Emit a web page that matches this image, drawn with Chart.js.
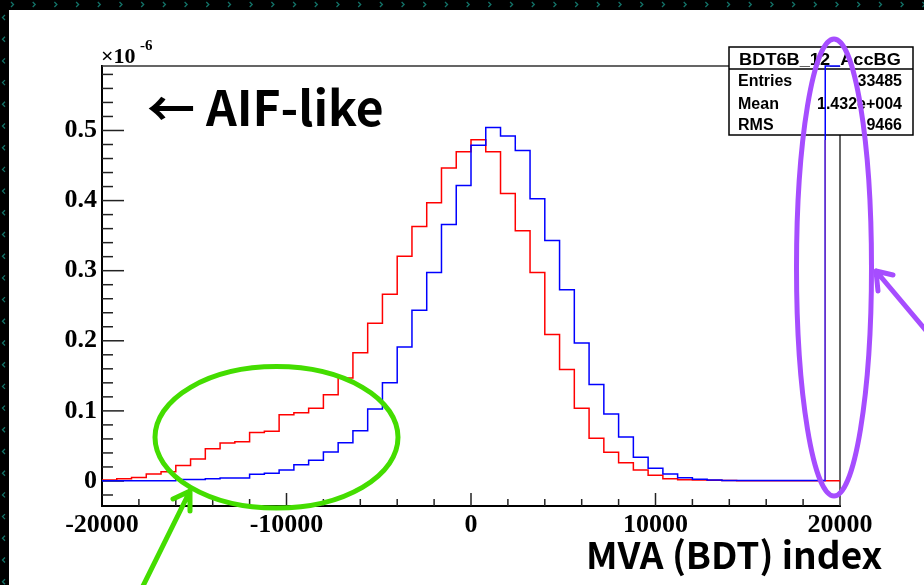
<!DOCTYPE html>
<html>
<head>
<meta charset="utf-8">
<script src="https://cdn.jsdelivr.net/npm/chart.js@4"></script>
<style>
html, body { margin: 0; padding: 0; background: #fff; overflow: hidden; }
#wrap { width: 924px; height: 585px; position: relative; }
</style>
</head>
<body>
<div id="wrap"><canvas id="myChart" width="924" height="585"></canvas></div>
<script>
// ******* DATA ******************
// histogram binning : 50 bins from -20000 to 20000
let binLow = -20000;
let binWidth = 800;

// red histogram (x10^-6), one value per bin
let redValues = [
  0.0014, 0.003, 0.005, 0.010, 0.013, 0.022, 0.0315, 0.046, 0.054, 0.056,
  0.069, 0.071, 0.0946, 0.0974, 0.1036, 0.123, 0.147, 0.183, 0.225, 0.2665,
  0.3205, 0.363, 0.397, 0.4466, 0.4695, 0.4867, 0.4695, 0.41, 0.357, 0.2975,
  0.209, 0.159, 0.1036, 0.061, 0.041, 0.026, 0.0158, 0.008, 0.0033, 0.0019,
  0.0014, 0.001, 0.0005, 0.0002, 0.0002, 0.0002, 0.0002, 0.0002, 0.0002, 0.0002
];

// blue histogram (BDT6B_12_AccBG), last bin runs off the top of the frame
let blueValues = [
  0.0003, 0.0003, 0.0003, 0.0003, 0.0003, 0.002, 0.002, 0.003, 0.0043, 0.0043,
  0.0095, 0.011, 0.0158, 0.023, 0.0296, 0.0415, 0.0544, 0.0716, 0.1027, 0.140,
  0.191, 0.2435, 0.2975, 0.366, 0.4217, 0.479, 0.5043, 0.492, 0.4713, 0.4026,
  0.343, 0.2727, 0.197, 0.1375, 0.0955, 0.0626, 0.034, 0.018, 0.010, 0.0045,
  0.0024, 0.0014, 0.0005, 0.0005, 0.0005, 0.0005, 0.0005, 0.0005, 0.0005, 0.592
];

let xTickValues = [-20000, -10000, 0, 10000, 20000];
let xTickLabels = ['-20000', '-10000', '0', '10000', '20000'];
let yTickValues = [0, 0.1, 0.2, 0.3, 0.4, 0.5];
let yTickLabels = ['0', '0.1', '0.2', '0.3', '0.4', '0.5'];

let statTitle = 'BDT6B_12_AccBG';
let statNames = ['Entries', 'Mean', 'RMS'];
let statValues = ['33485', '1.432e+004', '9466'];

let xMin = -20000, xMax = 20000;
let yMin = -0.0357, yMax = 0.592;


// turns bin values into step points (left edges + closing right edge)
function makeSteps(values){
  let pts = [];
  for(let i = 0; i < values.length; i++){
    pts.push({x: binLow + i * binWidth, y: values[i]});
  }
  pts.push({x: binLow + values.length * binWidth, y: values[values.length - 1]});
  return pts;
}

const sansCJK = '"Noto Sans CJK JP", "Noto Sans", sans-serif';

function stretchText(ctx, text, x, y, sx, align){
  ctx.save();
  ctx.translate(x, y);
  ctx.scale(sx, 1);
  ctx.textAlign = align;
  ctx.fillText(text, 0, 0);
  ctx.restore();
}

function arrowLine(ctx, x0, y0, x1, y1, wing1, wing2){
  ctx.beginPath();
  ctx.moveTo(x0, y0);
  ctx.lineTo(x1, y1);
  ctx.moveTo(wing1[0], wing1[1]);
  ctx.lineTo(x1, y1);
  ctx.lineTo(wing2[0], wing2[1]);
  ctx.stroke();
}

//////////////////////////////////////////////////////////////////////
// background, frame, ticks, stats box and the hand drawn notes
//////////////////////////////////////////////////////////////////////
const rootLook = {
  id: 'rootLook',
  beforeDraw(chart){
    const ctx = chart.ctx;
    ctx.save();
    ctx.fillStyle = '#000';
    ctx.fillRect(0, 0, 924, 585);
    ctx.fillStyle = '#fff';
    ctx.fillRect(9, 10, 915, 575);
    // little chevrons on the dark border
    ctx.strokeStyle = '#137268';
    ctx.lineWidth = 1.3;
    for(let x = 11; x < 924; x += 21.7){
      ctx.beginPath();
      ctx.moveTo(x, 2); ctx.lineTo(x + 2.5, 4.5); ctx.lineTo(x, 7);
      ctx.stroke();
    }
    for(let y = 15; y < 585; y += 21.7){
      ctx.beginPath();
      ctx.moveTo(5, y); ctx.lineTo(2.5, y + 2.5); ctx.lineTo(5, y + 5);
      ctx.stroke();
    }
    ctx.restore();
  },
  beforeDatasetsDraw(chart){
    const ctx = chart.ctx;
    const a = chart.chartArea;
    const xs = chart.scales.x, ys = chart.scales.y;
    ctx.save();
    // frame top + right
    ctx.strokeStyle = '#333';
    ctx.lineWidth = 1.5;
    ctx.beginPath();
    ctx.moveTo(a.left, a.top); ctx.lineTo(a.right, a.top); ctx.lineTo(a.right, a.bottom);
    ctx.stroke();

    // inner ticks, ROOT style
    ctx.strokeStyle = '#222';
    ctx.lineWidth = 1.5;
    for(let k = -9; k <= 9; k++){
      const px = xs.getPixelForValue(k * 2000);
      const len = (k % 5 === 0) ? 13 : 7;
      ctx.beginPath(); ctx.moveTo(px, a.bottom); ctx.lineTo(px, a.bottom - len); ctx.stroke();
    }
    for(let k = -1; k <= 29; k++){
      const py = ys.getPixelForValue(k * 0.02);
      if(py < a.top || py > a.bottom) continue;
      const len = (k % 5 === 0) ? 22 : 11;
      ctx.beginPath(); ctx.moveTo(a.left, py); ctx.lineTo(a.left + len, py); ctx.stroke();
    }

    // stats box
    ctx.fillStyle = '#fff';
    ctx.fillRect(729, 47, 184, 88);
    ctx.strokeStyle = '#000';
    ctx.lineWidth = 1.5;
    ctx.strokeRect(729, 47, 184, 88);
    ctx.beginPath(); ctx.moveTo(729, 69); ctx.lineTo(913, 69); ctx.stroke();
    ctx.fillStyle = '#000';
    ctx.textBaseline = 'alphabetic';
    ctx.font = 'bold 17px "Liberation Sans", Arial, sans-serif';
    stretchText(ctx, statTitle, 820, 65, 1.07, 'center');
    ctx.font = 'bold 16px "Liberation Sans", Arial, sans-serif';
    const rowY = [86, 109, 130];
    for(let i = 0; i < statNames.length; i++){
      stretchText(ctx, statNames[i], 738, rowY[i], 1.0, 'left');
      stretchText(ctx, statValues[i], 902, rowY[i], 1.0, 'right');
    }
    ctx.restore();
  },
  afterDraw(chart){
    const ctx = chart.ctx;
    const xs = chart.scales.x, ys = chart.scales.y;
    ctx.save();
    ctx.fillStyle = '#000';
    ctx.textBaseline = 'alphabetic';
    // x10^-6 exponent
    ctx.font = 'bold 22px "Liberation Serif", serif';
    ctx.textAlign = 'left';
    ctx.fillText('\u00d710', 101, 63);
    ctx.font = 'bold 15px "Liberation Serif", serif';
    ctx.fillText('-6', 140, 50);

    // big labels
    ctx.font = 'bold 48px ' + sansCJK;
    ctx.fillText('\u2190 AIF-like', 147, 126);
    ctx.font = 'bold 37px ' + sansCJK;
    ctx.fillText('MVA (BDT) index', 586, 569);

    // purple tint on the spike inside the ellipse
    const spikeX = xs.getPixelForValue(binLow + 49 * binWidth);
    ctx.strokeStyle = '#6a32c8';
    ctx.lineWidth = 1.5;
    ctx.beginPath(); ctx.moveTo(spikeX, 140); ctx.lineTo(spikeX, ys.getPixelForValue(0.0005)); ctx.stroke();

    ctx.lineCap = 'round';
    ctx.lineJoin = 'round';
    ctx.lineWidth = 5;
    // green ellipse + arrow
    ctx.strokeStyle = '#44dd00';
    ctx.beginPath(); ctx.ellipse(276.5, 437.3, 121.5, 70.7, 0, 0, Math.PI * 2); ctx.stroke();
    arrowLine(ctx, 141, 590, 190, 491, [173, 499], [190, 511]);

    // purple ellipse + arrow
    ctx.strokeStyle = '#a64dff';
    ctx.beginPath(); ctx.ellipse(834, 267.5, 37.5, 228.5, 0, 0, Math.PI * 2); ctx.stroke();
    arrowLine(ctx, 928, 333, 876, 271, [893, 275], [878, 291]);
    ctx.restore();
  }
};


const data = {
  datasets: [{
    label: 'BDT6B_12_AccBG',
    data: makeSteps(blueValues),
    borderColor: '#0000ff',
    borderWidth: 1.5,
    stepped: true,
    pointRadius: 0,
    fill: false,
    order: 0,
    clip: {left: 0, top: 2, right: 0, bottom: 0}
  },
  {
    label: 'signal',
    data: makeSteps(redValues),
    borderColor: '#ff0000',
    borderWidth: 1.5,
    stepped: true,
    pointRadius: 0,
    fill: false,
    order: 1
  }]
};

const config = {
  type: 'line',
  data: data,
  plugins: [rootLook],
  options: {
    responsive: false,
    animation: false,
    devicePixelRatio: 1,
    layout: { padding: { left: 0, top: 66, right: 84, bottom: 0 } },
    plugins: { legend: { display: false }, tooltip: { enabled: false } },
    scales: {
      x: {
        type: 'linear',
        min: xMin,
        max: xMax,
        afterBuildTicks: s => { s.ticks = xTickValues.map(v => ({value: v})); },
        afterFit: s => { s.height = 79; },
        grid: { display: false, drawTicks: false },
        border: { display: true, color: '#000', width: 2 },
        ticks: {
          autoSkip: false,
          maxRotation: 0,
          padding: 4,
          color: '#000',
          font: { family: '"Liberation Serif", "Times New Roman", serif', weight: 'bold', size: 26 },
          callback: (v, i) => xTickLabels[i]
        }
      },
      y: {
        type: 'linear',
        min: yMin,
        max: yMax,
        afterBuildTicks: s => { s.ticks = yTickValues.map(v => ({value: v})); },
        afterFit: s => { s.width = 102; },
        grid: { display: false, drawTicks: false },
        border: { display: true, color: '#000', width: 2 },
        ticks: {
          padding: 5,
          color: '#000',
          font: { family: '"Liberation Serif", "Times New Roman", serif', weight: 'bold', size: 26 },
          callback: (v, i) => yTickLabels[i]
        }
      }
    }
  }
};

let canvasChart = document.getElementById('myChart');
const myChart = new Chart(canvasChart, config);
</script>
</body>
</html>
